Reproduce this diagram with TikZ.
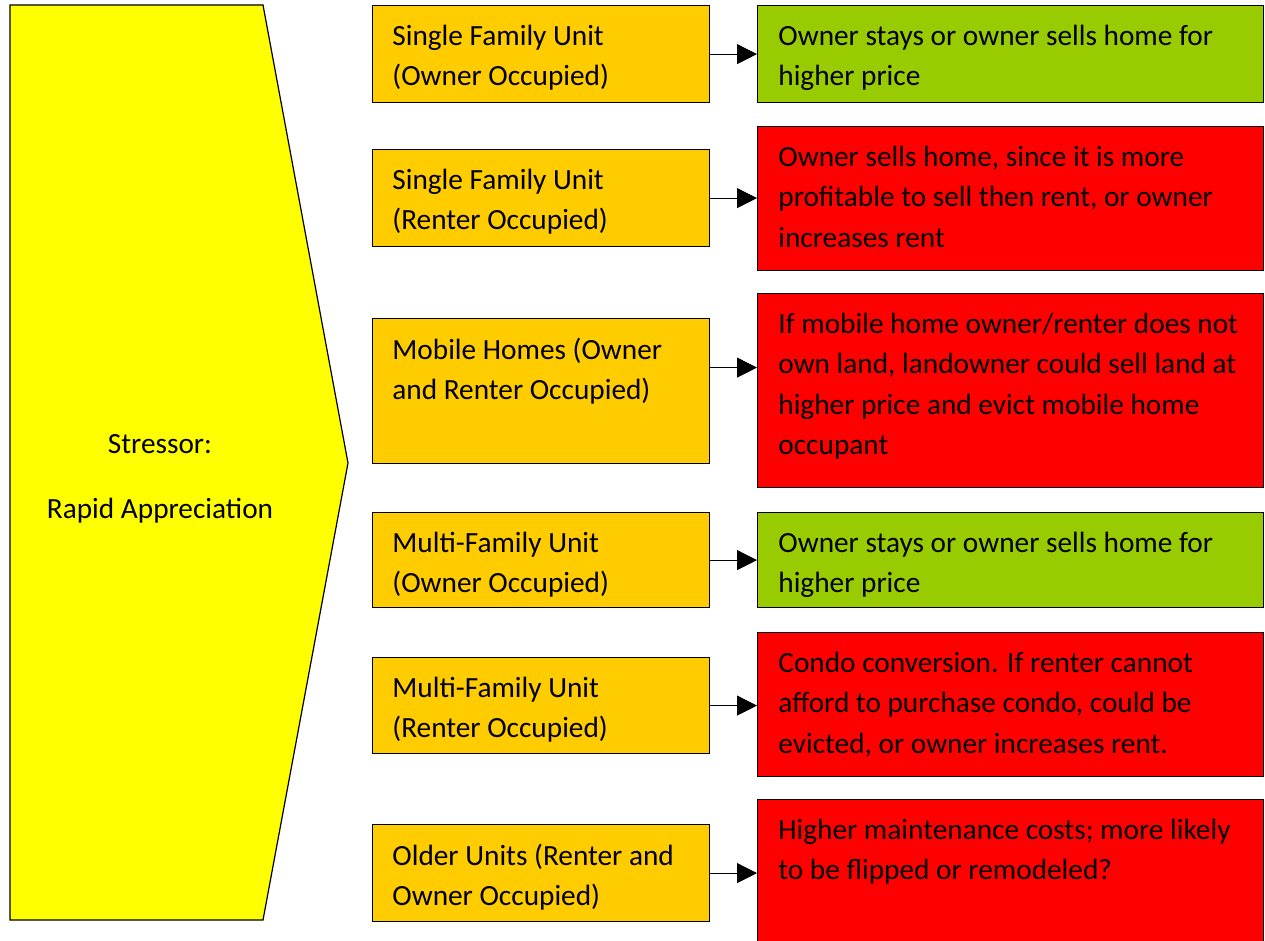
\documentclass[tikz,border=0pt]{standalone}
\usepackage{fontspec}
\setmainfont{Carlito}
\usetikzlibrary{positioning,arrows.meta}

\definecolor{stressyellow}{HTML}{FFFF00}
\definecolor{unitorange}{HTML}{FFCC00}
\definecolor{goodgreen}{HTML}{99CC00}
\definecolor{badred}{HTML}{FF0000}

\begin{document}
\begin{tikzpicture}[
        x=0.5pt, y=-0.5pt,
        every node/.style={font=\fontsize{14.65}{20.25}\selectfont},
        unit/.style={draw, line width=0.6pt, fill=unitorange, anchor=north west,
            minimum width=168.5pt, inner sep=0pt},
        good/.style={draw, line width=0.6pt, fill=goodgreen, anchor=north west,
            minimum width=253pt, inner sep=0pt},
        bad/.style={draw, line width=0.6pt, fill=badred, anchor=north west,
            minimum width=253pt, inner sep=0pt},
        boxtext/.style={anchor=north west, align=left, inner sep=0pt,
            execute at begin node=\strut},
        link/.style={-{Triangle[length=10pt,width=10pt]}, line width=0.5pt}
        ]
        \useasboundingbox (0,0) rectangle (1265,941);

        % The stressor
        \draw[line width=0.6pt, fill=stressyellow]
            (10,5) -- (263,5) -- (348,463) -- (263,920) -- (10,920) -- cycle;
        \node (stress) [anchor=base, align=center, inner sep=0pt] at (160,518)
            {Stressor:\\[12.25pt]Rapid Appreciation};

        % Define the housing types
        \node (u1) [unit, minimum height=48.5pt] at (372,5) {};
        \node (u2) [unit, minimum height=48.5pt] at (372,149) {};
        \node (u3) [unit, minimum height=72.5pt] at (372,318) {};
        \node (u4) [unit, minimum height=47.5pt] at (372,512) {};
        \node (u5) [unit, minimum height=48pt] at (372,657) {};
        \node (u6) [unit, minimum height=48.5pt] at (372,824) {};

        \node (ut1) [boxtext] at ([shift={(20,19.5)}]u1.north west) {Single Family Unit\\(Owner Occupied)};
        \node (ut2) [boxtext] at ([shift={(20,19.5)}]u2.north west) {Single Family Unit\\(Renter Occupied)};
        \node (ut3) [boxtext] at ([shift={(20,19.5)}]u3.north west) {Mobile Homes (Owner\\and Renter Occupied)};
        \node (ut4) [boxtext] at ([shift={(20,19.5)}]u4.north west) {Multi-Family Unit\\(Owner Occupied)};
        \node (ut5) [boxtext] at ([shift={(20,19.5)}]u5.north west) {Multi-Family Unit\\(Renter Occupied)};
        \node (ut6) [boxtext] at ([shift={(20,19.5)}]u6.north west) {Older Units (Renter and\\Owner Occupied)};

        % Define the outcomes
        \node (r1) [good, minimum height=48.5pt] at (757,5) {};
        \node (r2) [bad, minimum height=72pt] at (757,126) {};
        \node (r3) [bad, minimum height=97pt] at (757,293) {};
        \node (r4) [good, minimum height=47.5pt] at (757,512) {};
        \node (r5) [bad, minimum height=72pt] at (757,632) {};
        \node (r6) [bad, minimum height=73pt] at (757,799) {};

        \node (rt1) [boxtext] at ([shift={(21,19.5)}]r1.north west) {Owner stays or owner sells home for\\higher price};
        \node (rt2) [boxtext] at ([shift={(21,19.5)}]r2.north west) {Owner sells home, since it is more\\profitable to sell then rent, or owner\\increases rent};
        \node (rt3) [boxtext] at ([shift={(21,19.5)}]r3.north west) {If mobile home owner/renter does not\\own land, landowner could sell land at\\higher price and evict mobile home\\occupant};
        \node (rt4) [boxtext] at ([shift={(21,19.5)}]r4.north west) {Owner stays or owner sells home for\\higher price};
        \node (rt5) [boxtext] at ([shift={(21,19.5)}]r5.north west) {Condo conversion. If renter cannot\\afford to purchase condo, could be\\evicted, or owner increases rent.};
        \node (rt6) [boxtext] at ([shift={(21,19.5)}]r6.north west) {Higher maintenance costs; more likely\\to be flipped or remodeled?};

        % Draw the arrows
        \draw[link] (u1.east) -- (u1.east -| r1.west);
        \draw[link] (u2.east) -- (u2.east -| r2.west);
        \draw[link] ([yshift=11.75pt]u3.east) -- ([yshift=11.75pt]u3.east -| r3.west);
        \draw[link] (u4.east) -- (u4.east -| r4.west);
        \draw[link] (u5.east) -- (u5.east -| r5.west);
        \draw[link] (u6.east) -- (u6.east -| r6.west);
    \end{tikzpicture}
\end{document}
